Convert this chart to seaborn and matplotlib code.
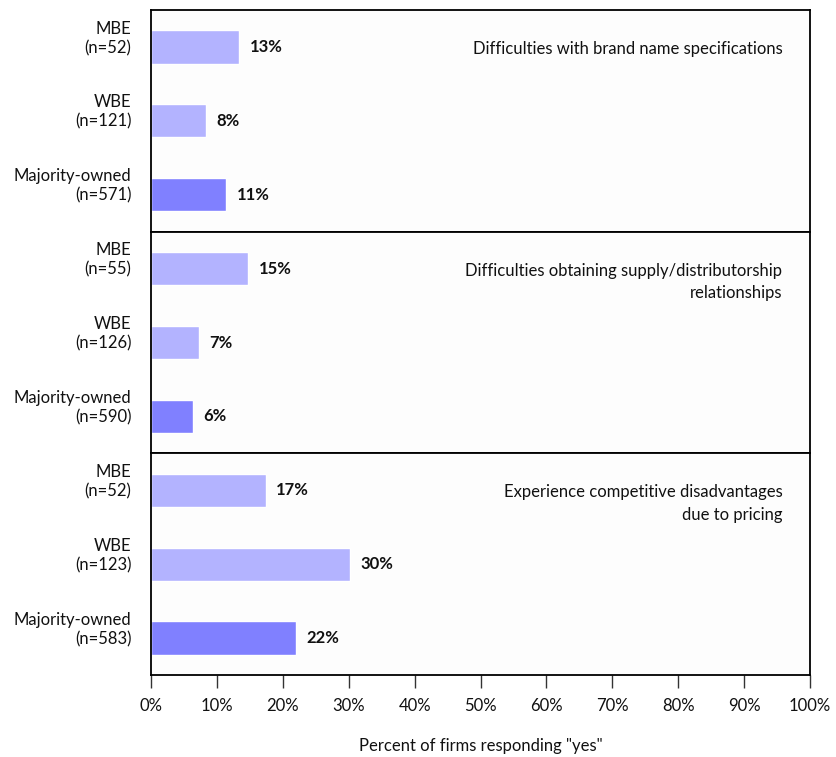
import numpy as np
import pandas as pd
import matplotlib
matplotlib.use("Agg")
import matplotlib.pyplot as plt
import seaborn as sns

# data
groups = ["MBE", "WBE", "Majority-owned"]
panel_titles = [
    "Difficulties with brand name specifications",
    "Difficulties obtaining supply/distributorship\nrelationships",
    "Experience competitive disadvantages\ndue to pricing",
]
sample_sizes = [
    [52, 121, 571],
    [55, 126, 590],
    [52, 123, 583],
]
pct_yes = [
    [13.4, 8.3, 11.4],
    [14.7, 7.3, 6.4],
    [17.4, 30.2, 22.0],
]
x_ticks = list(range(0, 101, 10))

light = "#b3b3ff"
dark = "#8080ff"
bar_colors = {"MBE": light, "WBE": light, "Majority-owned": dark}

sns.set_theme(style="white")
plt.rcParams["font.family"] = ["Lato", "DejaVu Sans"]

fig, axes = plt.subplots(3, 1, figsize=(8.36, 7.57), dpi=100, sharex=True)
fig.subplots_adjust(left=0.1806, right=0.969, top=0.9868, bottom=0.1083, hspace=0)

for i, ax in enumerate(axes):
    df = pd.DataFrame({"group": groups, "pct": pct_yes[i]})
    sns.barplot(data=df, x="pct", y="group", hue="group", palette=bar_colors,
                orient="h", width=0.45, dodge=False, legend=False, ax=ax,
                saturation=1)
    for j, v in enumerate(pct_yes[i]):
        ax.text(v + 1.6, j, f"{v:.0f}%", va="center", ha="left",
                fontsize=12, fontweight="bold", color="#111111")
    ax.text(95.8, -0.08, panel_titles[i], ha="right", va="top",
            fontsize=12, color="#111111", linespacing=1.5)
    labels = [f"{g}\n(n={n})" for g, n in zip(groups, sample_sizes[i])]
    # labels sit a little above the bar centres, as in the original
    ax.set_yticks([j - 0.16 for j in range(3)])
    ax.set_yticklabels(labels, fontsize=12, color="#111111",
                       multialignment="right", linespacing=1.25)
    ax.tick_params(axis="y", length=0, pad=14)
    ax.set_ylim(2.5, -0.5)
    ax.set_xlim(0, 100)
    ax.set_ylabel("")
    ax.set_xlabel("")
    ax.set_facecolor("#fdfdfd")
    for s in ax.spines.values():
        s.set_visible(True)
        s.set_color("black")
        s.set_linewidth(1.3)

for ax in axes[:-1]:
    ax.tick_params(axis="x", length=0, labelbottom=False)

bottom = axes[-1]
bottom.set_xticks(x_ticks)
bottom.set_xticklabels([f"{t}%" for t in x_ticks], fontsize=12, color="#111111")
bottom.tick_params(axis="x", direction="out", length=9.5, width=1,
                   color="#333333", pad=7, bottom=True)
bottom.set_xlabel('Percent of firms responding "yes"', fontsize=12,
                  color="#111111", labelpad=17)

fig.savefig("out.png", dpi=100, facecolor="white")
